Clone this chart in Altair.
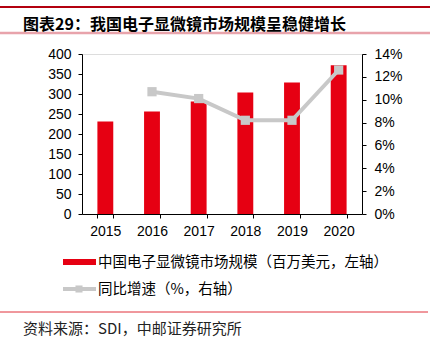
import altair as alt
import pandas as pd

years = ["2015", "2016", "2017", "2018", "2019", "2020"]
market = [231, 256, 281, 304, 329, 372]
growth = [None, 10.7, 10.1, 8.2, 8.2, 12.6]

title_text = "图表29：我国电子显微镜市场规模呈稳健增长"
legend_bar = "中国电子显微镜市场规模（百万美元，左轴）"
legend_line = "同比增速（%，右轴）"
source_text = "资料来源：SDI，中邮证券研究所"

df = pd.DataFrame({"year": years, "market": market, "growth": growth})

RED = "#E60012"
GRAY = "#C8C8C8"
FONT = "Liberation Sans"
CJK = "Noto Sans CJK SC"
AX = 14

x_enc = alt.X("year:N", sort=years, title=None,
              scale=alt.Scale(paddingInner=0.66, paddingOuter=0.33),
              axis=alt.Axis(labelAngle=0, labelFont=FONT, labelFontSize=AX,
                            labelColor="#000", domainColor="#000", tickColor="#000",
                            tickBand="extent", tickSize=4, labelPadding=6, grid=False))

bars = alt.Chart(df).mark_bar(color=RED).encode(
    x=x_enc,
    y=alt.Y("market:Q", title=None,
            scale=alt.Scale(domain=[0, 400], nice=False),
            axis=alt.Axis(values=list(range(0, 401, 50)), labelFont=FONT, labelFontSize=AX,
                          labelColor="#000", domainColor="#000", tickColor="#000",
                          tickSize=4, grid=False, labelPadding=7)),
)

line = alt.Chart(df).transform_filter("datum.growth != null").mark_line(
    color=GRAY, strokeWidth=4,
    point=alt.OverlayMarkDef(shape="square", size=85, color=GRAY, filled=True, opacity=1),
).encode(
    x=alt.X("year:N", sort=years),
    y=alt.Y("growth:Q", title=None,
            scale=alt.Scale(domain=[0, 14], nice=False),
            axis=alt.Axis(orient="right", values=list(range(0, 15, 2)),
                          labelExpr="datum.value + '%'", labelFont=FONT, labelFontSize=AX,
                          labelColor="#000", domainColor="#000", tickColor="#000",
                          tickSize=4, grid=False, labelPadding=8)),
)

one = pd.DataFrame({"k": [0]})
base = alt.Chart(one)

top_rule = base.mark_rule(color="#B3000F", strokeWidth=2).encode(
    x=alt.value(-82), x2=alt.value(348), y=alt.value(-47))
pink_rule = base.mark_rule(color="#E8A3AB", strokeWidth=2.5).encode(
    x=alt.value(-82), x2=alt.value(348), y=alt.value(-21))
title = base.mark_text(text=title_text, font=CJK, fontSize=16, fontWeight="bold",
                       align="left", baseline="middle", color="#000").encode(
    x=alt.value(-59), y=alt.value(-29))

leg_rect = base.mark_rect(color=RED).encode(
    x=alt.value(-19), x2=alt.value(14), y=alt.value(205), y2=alt.value(211))
leg_text1 = base.mark_text(text=legend_bar, font=CJK, fontSize=14.5, align="left",
                           baseline="middle", color="#000").encode(
    x=alt.value(16), y=alt.value(209))
leg_line = base.mark_rule(color=GRAY, strokeWidth=4).encode(
    x=alt.value(-19), x2=alt.value(14), y=alt.value(235))
leg_pt = base.mark_point(shape="square", size=50, color=GRAY, filled=True, opacity=1).encode(
    x=alt.value(-3), y=alt.value(235))
leg_text2 = base.mark_text(text=legend_line, font=CJK, fontSize=14.5, align="left",
                           baseline="middle", color="#000").encode(
    x=alt.value(16), y=alt.value(236))

bottom_rule = base.mark_rule(color="#E0303A", strokeWidth=1).encode(
    x=alt.value(-82), x2=alt.value(346), y=alt.value(258))
source = base.mark_text(text=source_text, font=CJK, fontSize=15, align="left",
                        baseline="middle", color="#222").encode(
    x=alt.value(-59), y=alt.value(275))

chart = alt.layer(
    bars, line,
).resolve_scale(y="independent")

chart = alt.layer(
    chart, top_rule, pink_rule, title, leg_rect, leg_text1, leg_line, leg_pt, leg_text2,
    bottom_rule, source,
).properties(
    width=280, height=160,
    autosize=alt.AutoSizeParams(type="none"),
    padding={"left": 82, "top": 54, "right": 68, "bottom": 129},
).configure_view(stroke=None).configure(background="white")

chart.save("out.html", embed_options={"renderer": "svg", "actions": False})
